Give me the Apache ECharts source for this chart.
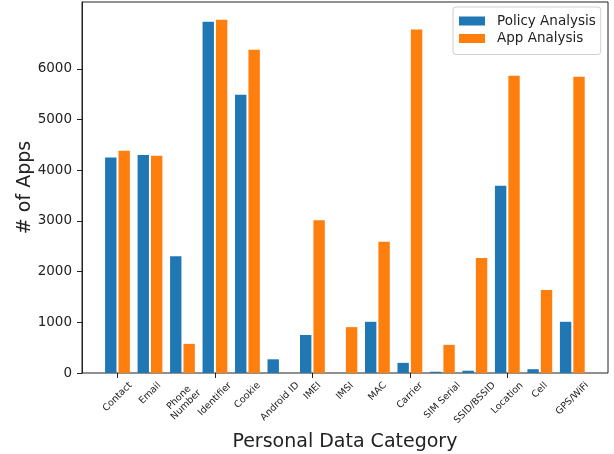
<!DOCTYPE html>
<html>
<head>
<meta charset="utf-8">
<script src="https://cdn.jsdelivr.net/npm/echarts@6/dist/echarts.min.js"></script>
<style>
  html, body { margin: 0; padding: 0; background: #fff; }
  #chart { width: 614px; height: 454px; }
</style>
</head>
<body>
<div id="chart"></div>
<script>
// Personal data categories (x axis)
const categories = ['Contact', 'Email', 'Phone\nNumber', 'Identifier', 'Cookie', 'Android ID', 'IMEI',
  'IMSI', 'MAC', 'Carrier', 'SIM Serial', 'SSID/BSSID', 'Location', 'Cell', 'GPS/WiFi'];

// Number of apps per category
const policyAnalysis = [4250, 4300, 2305, 6930, 5490, 270, 750, 0, 1010, 200, 25, 45, 3695, 75, 1010];
const appAnalysis    = [4385, 4285, 575, 6970, 6375, 0, 3015, 905, 2590, 6775, 555, 2270, 5865, 1635, 5845];

// Y tick values
const yTicks = [0, 1000, 2000, 3000, 4000, 5000, 6000];

const FONT = 'DejaVu Sans';
const INK = '#222';
const yMax = Math.max(...policyAnalysis, ...appAnalysis) * 1.05;

// text measuring for the rotated category labels
const measureCtx = document.createElement('canvas').getContext('2d');
const tickFontSize = 9.5;
measureCtx.font = tickFontSize + 'px "' + FONT + '"';
function rotatedExtent(text) {
  const lines = text.split('\n');
  const w = Math.max(...lines.map(l => measureCtx.measureText(l).width));
  const h = lines.length * tickFontSize * 1.17;
  return (w + h) * Math.SQRT1_2;
}

const chart = echarts.init(document.getElementById('chart'), null, { renderer: 'canvas' });

chart.setOption({
  animation: false,
  backgroundColor: '#fff',
  grid: [
    // frame + y axis
    { left: 82, width: 526, top: 2, height: 371, outerBoundsMode: 'none', containLabel: false,
      show: true, borderColor: INK, borderWidth: 1, backgroundColor: 'transparent' },
    // bar area (padded inside the frame)
    { left: 101.25, width: 487.3, top: 2, height: 371, outerBoundsMode: 'none', containLabel: false }
  ],
  legend: {
    orient: 'vertical',
    left: 453, top: 7,
    padding: [6, 5, 8, 6],
    itemWidth: 26, itemHeight: 9, itemGap: 1.5,
    icon: 'rect',
    backgroundColor: 'rgba(255,255,255,0.85)',
    borderColor: '#d0d0d0', borderWidth: 1, borderRadius: 3,
    textStyle: { fontFamily: FONT, fontSize: 13.5, color: INK, lineHeight: 16, padding: [0, 0, 0, 7] },
    data: ['Policy Analysis', 'App Analysis']
  },
  xAxis: [
    { type: 'value', gridIndex: 0, show: false, min: 0, max: 1 },
    {
      type: 'category', gridIndex: 1, data: categories,
      axisLine: { show: false },
      axisTick: { show: true, alignWithLabel: true, length: 5, lineStyle: { color: INK, width: 1 } },
      axisLabel: { show: false },
      name: 'Personal Data Category', nameLocation: 'middle', nameGap: 60, nameMoveOverlap: false,
      nameTextStyle: { fontFamily: FONT, fontSize: 19, color: INK }
    }
  ],
  yAxis: [
    {
      type: 'value', gridIndex: 0, min: 0, max: yMax, interval: 1000,
      axisLine: { show: true, lineStyle: { color: INK, width: 1 } },
      axisTick: { show: true, length: 5, customValues: yTicks, lineStyle: { color: INK, width: 1 } },
      axisLabel: {
        customValues: yTicks, margin: 10, fontFamily: FONT, fontSize: 13.5, color: INK,
        formatter: v => String(v)
      },
      splitLine: { show: false },
      name: '# of Apps', nameLocation: 'middle', nameGap: 47, nameMoveOverlap: false,
      nameTextStyle: { fontFamily: FONT, fontSize: 19, color: INK }
    },
    { type: 'value', gridIndex: 1, min: 0, max: yMax, show: false, splitLine: { show: false } }
  ],
  series: [
    {
      name: 'Policy Analysis', type: 'bar', xAxisIndex: 1, yAxisIndex: 1,
      data: policyAnalysis, barWidth: '35%', barGap: '18%',
      itemStyle: { color: '#1f77b4' }
    },
    {
      name: 'App Analysis', type: 'bar', xAxisIndex: 1, yAxisIndex: 1,
      data: appAnalysis, barWidth: '35%', barGap: '18%',
      itemStyle: { color: '#ff7f0e' }
    },
    {
      // rotated category labels, bounding box centred under each tick
      type: 'custom', xAxisIndex: 1, yAxisIndex: 1, silent: true, clip: false,
      data: categories.map((c, i) => [i, 0]),
      encode: { x: 0, y: 1 },
      renderItem: function (params, api) {
        const idx = api.value(0);
        const p = api.coord([idx, 0]);
        const label = categories[idx];
        const ext = rotatedExtent(label);
        return {
          type: 'text',
          x: p[0], y: p[1] + 7 + ext / 2,
          rotation: Math.PI / 4,
          style: {
            text: label, fill: INK,
            font: tickFontSize + 'px "' + FONT + '"',
            align: 'center', verticalAlign: 'middle'
          }
        };
      }
    }
  ]
});
</script>
</body>
</html>
